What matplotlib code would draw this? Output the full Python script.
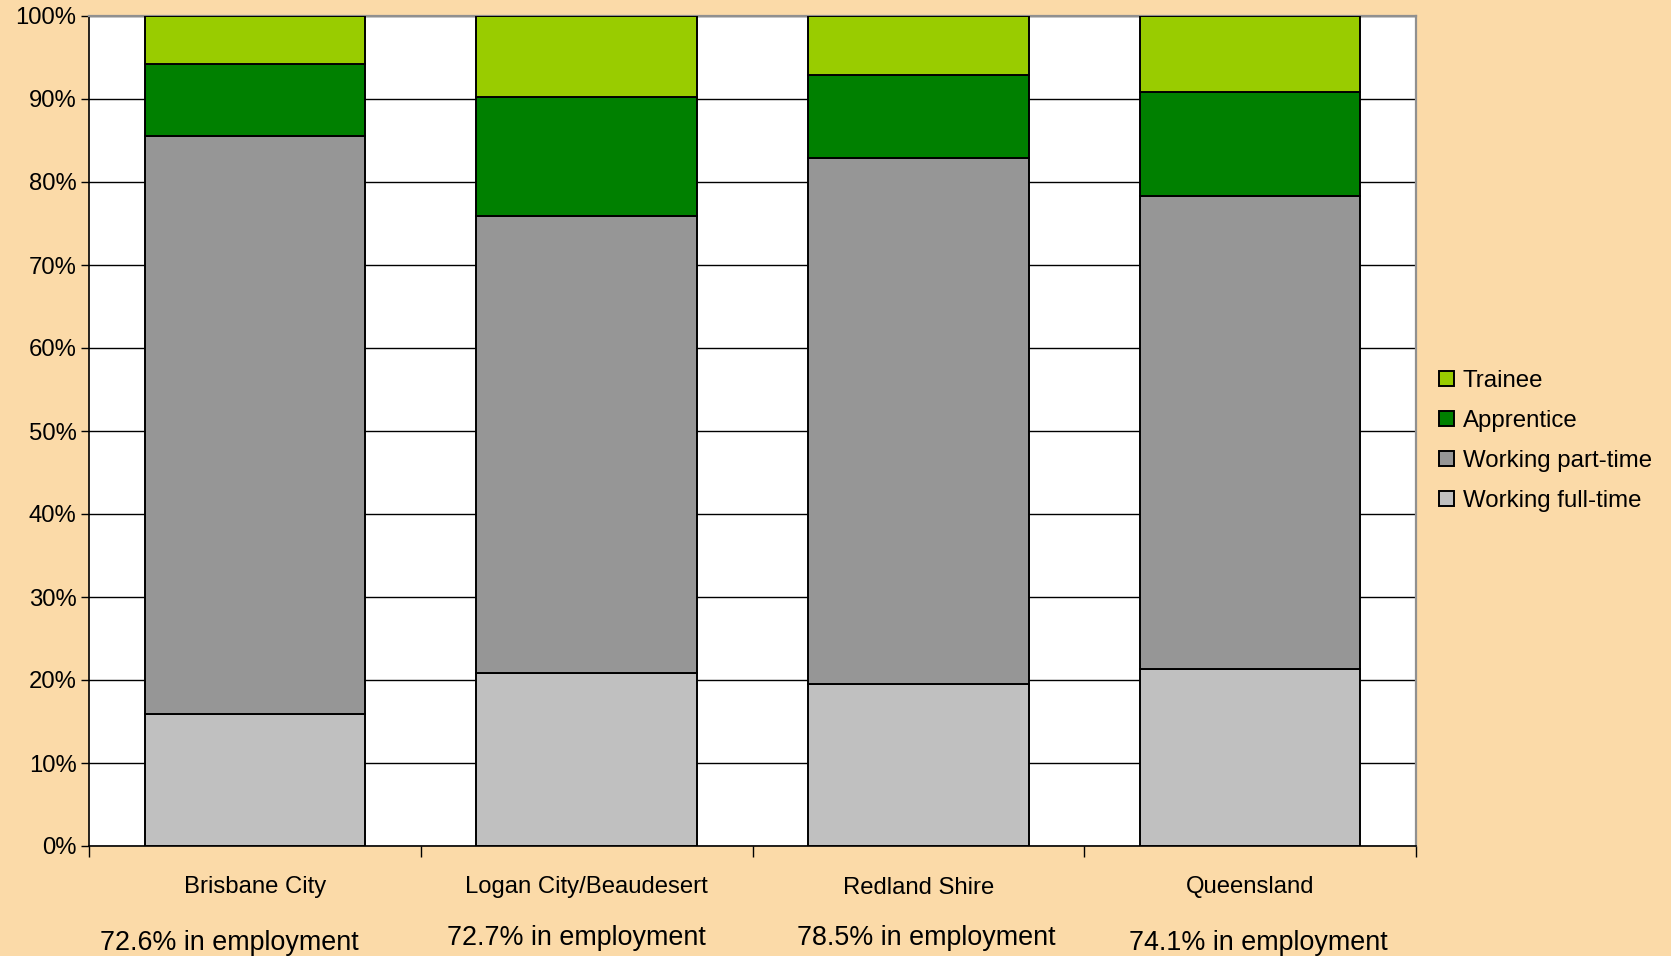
import matplotlib
matplotlib.use('Agg')
import matplotlib.pyplot as plt
import numpy as np

# data (percent of each region)
regions = ["Brisbane City", "Logan City/Beaudesert", "Redland Shire", "Queensland"]
employment_labels = ["72.6% in employment", "72.7% in employment",
                     "78.5% in employment", "74.1% in employment"]
full_time = [15.9, 20.8, 19.5, 21.3]
part_time = [69.7, 55.1, 63.4, 57.0]
apprentice = [8.6, 14.3, 10.0, 12.6]
trainee = [5.8, 9.8, 7.1, 9.1]

series = [
    ("Working full-time", full_time, '#C0C0C0'),
    ("Working part-time", part_time, '#969696'),
    ("Apprentice", apprentice, '#008000'),
    ("Trainee", trainee, '#99CC00'),
]

plt.rcParams['font.family'] = ['Liberation Sans', 'DejaVu Sans']

bg = '#FBDAA8'
fig = plt.figure(figsize=(16.71, 9.56), dpi=100, facecolor=bg)
ax = fig.add_axes([89 / 1671, 110 / 956, (1416 - 89) / 1671, (846 - 16) / 956])
ax.set_facecolor('white')

x = np.arange(len(regions))
bottom = np.zeros(len(regions))
for name, vals, col in series:
    ax.bar(x, vals, bottom=bottom, width=0.665, color=col, edgecolor='black',
           linewidth=1.4, label=name, zorder=3)
    bottom += np.array(vals)

ax.set_xlim(-0.5, len(regions) - 0.5)
ax.set_ylim(0, 100)
ax.set_yticks(range(0, 101, 10))
ax.set_yticklabels([f"{v}%" for v in range(0, 101, 10)], fontsize=17.2)
ax.yaxis.grid(True, color='black', linewidth=1.0, zorder=1)
ax.tick_params(axis='y', length=6, width=1, pad=3)

# category boundaries as ticks, labels drawn as text
ax.set_xticks(np.arange(-0.5, len(regions), 1.0))
ax.set_xticklabels([])
ax.tick_params(axis='x', length=8, width=1, direction='out')

# the employment text boxes sit a little off-centre in the original
emp_dx = [-0.077, -0.031, 0.023, 0.026]
emp_y = [-11.7, -11.1, -11.1, -11.7]
for i, (r, e) in enumerate(zip(regions, employment_labels)):
    ax.text(i, -5.0, r, ha='center', va='center', fontsize=17.2)
    ax.text(i + emp_dx[i], emp_y[i], e, ha='center', va='center',
            fontsize=19.4, clip_on=False)

for s in ['left', 'bottom']:
    ax.spines[s].set_color('black')
    ax.spines[s].set_linewidth(1.2)
for s in ['top', 'right']:
    ax.spines[s].set_color('#909090')
    ax.spines[s].set_linewidth(1.6)

handles, labels = ax.get_legend_handles_labels()
leg = ax.legend(handles[::-1], labels[::-1], loc='center left',
                bbox_to_anchor=(1.0, 0.488), frameon=False, fontsize=17.3,
                handlelength=0.63, handleheight=0.63, handletextpad=0.35,
                labelspacing=0.75, borderaxespad=0.56)

fig.savefig('out.png', dpi=100, facecolor=bg)
